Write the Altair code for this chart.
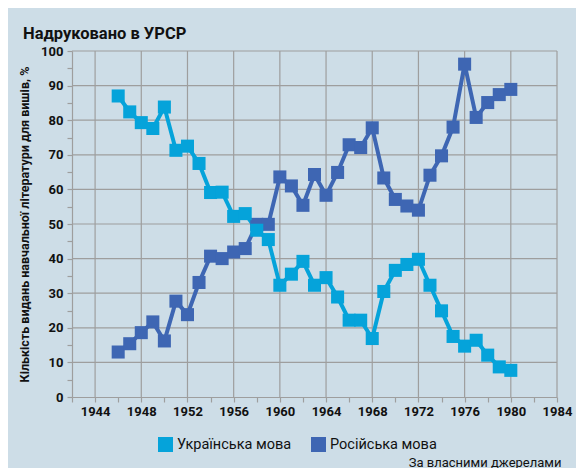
import altair as alt
import pandas as pd

years = list(range(1946, 1981))
ukrainian = [87.0, 82.4, 79.3, 77.6, 83.8, 71.3, 72.5, 67.5, 59.1, 59.2, 52.2, 53.0, 48.2, 45.5,
             32.3, 35.5, 39.2, 32.3, 34.5, 28.9, 22.2, 22.2, 16.9, 30.5, 36.6, 38.3, 39.8, 32.3,
             24.9, 17.5, 14.7, 16.4, 12.1, 8.7, 7.7]
russian = [13.0, 15.4, 18.6, 21.7, 16.2, 27.7, 23.8, 33.1, 40.7, 40.0, 41.9, 42.9, 49.9, 49.9,
           63.6, 61.0, 55.4, 64.3, 58.3, 64.9, 72.9, 72.1, 77.8, 63.3, 57.1, 55.2, 54.0, 64.1,
           69.7, 78.0, 96.2, 80.8, 85.1, 87.4, 88.9]
series_names = ["Українська мова", "Російська мова"]
series_colors = ["#05A3DA", "#3E66B3"]
x_ticks = list(range(1942, 1985, 2))
y_ticks = list(range(0, 101, 5))
x_grid = list(range(1944, 1985, 4))
y_grid = list(range(10, 101, 10))

rows = []
for name, vals, order in [(series_names[1], russian, 0), (series_names[0], ukrainian, 1)]:
    for y, v in zip(years, vals):
        rows.append({"year": y, "value": v, "series": name, "order": order})
df = pd.DataFrame(rows)

font = "Roboto"
grid_col = "#9E9E9E"

x_scale = alt.Scale(domain=[1942, 1984], nice=False, zero=False)
y_scale = alt.Scale(domain=[0, 100], nice=False)

x_axis = alt.Axis(
    values=x_ticks, grid=False, labelOverlap=False,
    labelExpr="datum.value % 4 == 0 ? datum.label : ''",
    labelFont=font, labelFontWeight="bold", labelFontSize=13, labelColor="#111",
    labelPadding=3, tickSize=5, tickColor=grid_col, tickWidth=1.2,
    domainColor=grid_col, domainWidth=1.2, labelFlush=False, format="d",
    title="За власними джерелами", titleFont=font, titleFontWeight="normal",
    titleFontSize=13, titleColor="#111", titleX=489, titleY=69,
    titleAlign="right", titleBaseline="alphabetic",
)
y_axis = alt.Axis(
    values=y_ticks, grid=False, labelOverlap=False,
    labelExpr="datum.value % 10 == 0 ? datum.label : ''",
    labelFont=font, labelFontWeight="bold", labelFontSize=13, labelColor="#111",
    labelPadding=4, tickSize=5, tickColor=grid_col, tickWidth=1.2,
    domainColor=grid_col, domainWidth=1.2, format="d",
    title="Кількість видань навчальної літератури для вишів, %",
    titleFont=font, titleFontWeight="bold", titleFontSize=12.5, titleColor="#111",
    titlePadding=9,
)
x_enc = alt.X("year:Q", scale=x_scale, axis=x_axis)
y_enc = alt.Y("value:Q", scale=y_scale, axis=y_axis)

color_enc = alt.Color(
    "series:N",
    scale=alt.Scale(domain=series_names, range=series_colors),
    legend=alt.Legend(
        title=None, orient="none", legendX=86, legendY=386, direction="horizontal",
        symbolType="square", symbolSize=225, symbolStrokeWidth=0, symbolOpacity=1,
        labelFont=font, labelFontSize=14.5, labelColor="#111", labelOffset=4,
        columnPadding=19,
    ),
)

vgrid = alt.Chart(pd.DataFrame({"year": x_grid})).mark_rule(color=grid_col, strokeWidth=1.2).encode(
    x=x_enc
)
hgrid = alt.Chart(pd.DataFrame({"value": y_grid})).mark_rule(color=grid_col, strokeWidth=1.2).encode(
    y=y_enc
)

base = alt.Chart(df)
lines = base.mark_line(strokeWidth=4).encode(
    x=x_enc, y=y_enc, color=color_enc, detail="series:N", order="year:Q"
)
points = base.mark_point(shape="square", filled=True, size=170, opacity=1).encode(
    x=x_enc, y=y_enc, color=color_enc
)

chart = (
    alt.layer(vgrid, hgrid, lines, points)
    .properties(
        width=485,
        height=346,
        autosize=alt.AutoSizeParams(type="none"),
        padding={"left": 64, "top": 43, "right": 19, "bottom": 71},
        background="#CDDDE7",
        title=alt.TitleParams(
            "Надруковано в УРСР", anchor="start", frame="group", dx=-49, dy=30,
            font=font, fontWeight="bold", fontSize=16.5, color="#111",
            baseline="alphabetic", offset=20,
        ),
    )
    .configure_view(stroke=None)
)

chart.save("out.html", embed_options={"renderer": "svg", "actions": False})
